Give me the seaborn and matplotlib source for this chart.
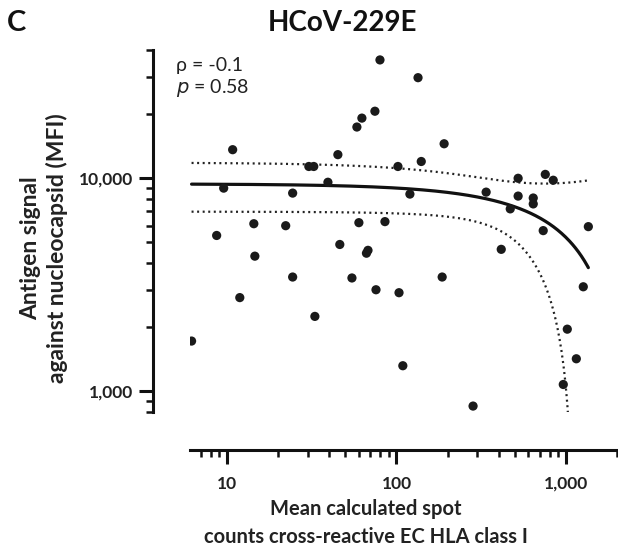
import numpy as np
import pandas as pd
import matplotlib
matplotlib.use("Agg")
import matplotlib.pyplot as plt
import matplotlib.ticker as mticker
import seaborn as sns

# ---- data ----
spot_counts = [79.9, 58.4, 62.5, 74.6, 10.8, 45.1, 30.4, 32.5, 9.56, 39.4,
               24.4, 14.4, 22.2, 8.69, 60.0, 85.5, 134, 191, 102, 140,
               120, 522, 755, 841, 338, 522, 641, 641, 469, 734,
               1355, 46.3, 14.6, 67.9, 66.5, 24.4, 54.6, 75.7, 11.9, 33.0,
               6.18, 415, 186, 103.5, 1265, 1018, 1151, 109, 964, 283]
mfi = [35930, 17400, 19160, 20640, 13620, 12910, 11360, 11360, 8990, 9580,
       8520, 6120, 5990, 5390, 6190, 6260, 29660, 14520, 11360, 11990,
       8430, 10000, 10430, 9790, 8610, 8250, 8080, 7580, 7185, 5680,
       5930, 4890, 4310, 4590, 4450, 3440, 3405, 2998, 2754, 2248,
       1722, 4640, 3440, 2904, 3096, 1958, 1422, 1319, 1077, 853]
x_ticks = [10, 100, 1000]
x_ticklabels = ["10", "100", "1,000"]
y_ticks = [1000, 10000]
y_ticklabels = ["1,000", "10,000"]
stats_text = ["ρ = -0.1", "0.58"]
title = "HCoV-229E"
panel = "C"
x_label = "Mean calculated spot\ncounts cross-reactive EC HLA class I"
y_label = "Antigen signal\nagainst nucleocapsid (MFI)"

df = pd.DataFrame({"spots": spot_counts, "mfi": mfi})

# linear regression (linear space) with 95% confidence band of the mean
x = df["spots"].to_numpy(float)
y = df["mfi"].to_numpy(float)
n = len(x)
b, a = np.polyfit(x, y, 1)
resid = y - (a + b * x)
s = np.sqrt(np.sum(resid ** 2) / (n - 2))
sxx = np.sum((x - x.mean()) ** 2)
t_crit = 2.011
xf = np.logspace(np.log10(x.min()), np.log10(x.max()), 400)
yf = a + b * xf
half = t_crit * s * np.sqrt(1.0 / n + (xf - x.mean()) ** 2 / sxx)
fit = pd.DataFrame({"x": xf, "y": yf, "lo": yf - half, "hi": yf + half})

sns.set_style("ticks")
plt.rcParams["font.family"] = ["Lato", "DejaVu Sans"]

fig = plt.figure(figsize=(6.18, 5.46), dpi=100)
W, H = 618, 546
ax = fig.add_axes([190 / W, (H - 412) / H, (617 - 190) / W, (412 - 50) / H])

sns.scatterplot(data=df, x="spots", y="mfi", ax=ax, color="#1a1a1a",
                s=44, edgecolor="none", zorder=3)
sns.lineplot(data=fit, x="x", y="y", ax=ax, color="#111111", lw=2.3,
             zorder=2)
sns.lineplot(data=fit, x="x", y="hi", ax=ax, color="#222222", lw=1.6,
             ls=(0, (0.9, 1.6)), zorder=2)
lo = fit["lo"].where(fit["lo"] > 1, 1)
ax.plot(fit["x"], lo, color="#222222", lw=1.6, ls=(0, (0.9, 1.6)), zorder=2)

ax.set_xscale("log")
ax.set_yscale("log")
ax.set_xlim(6.05, 2000)
ax.set_ylim(800, 40000)

ax.xaxis.set_major_locator(mticker.FixedLocator(x_ticks))
ax.xaxis.set_major_formatter(mticker.FixedFormatter(x_ticklabels))
ax.xaxis.set_minor_locator(mticker.LogLocator(base=10, subs=np.arange(2, 10)))
ax.xaxis.set_minor_formatter(mticker.NullFormatter())
ax.yaxis.set_major_locator(mticker.FixedLocator(y_ticks))
ax.yaxis.set_major_formatter(mticker.FixedFormatter(y_ticklabels))
ax.yaxis.set_minor_locator(mticker.LogLocator(base=10, subs=np.arange(2, 10)))
ax.yaxis.set_minor_formatter(mticker.NullFormatter())

sns.despine(ax=ax, offset={"left": 27, "bottom": 27})
for sp in ("left", "bottom"):
    ax.spines[sp].set_linewidth(2.2)
    ax.spines[sp].set_color("#111111")
ax.tick_params(which="major", length=10, width=2.2, color="#111111",
               labelsize=12.5)
ax.tick_params(axis="x", which="major", pad=9)
ax.tick_params(axis="y", which="major", pad=4)
ax.tick_params(which="minor", length=5, width=1.8, color="#111111")
for lab in ax.get_xticklabels() + ax.get_yticklabels():
    lab.set_fontweight("bold")
    lab.set_color("#222222")
ax.set_xlabel("")
ax.set_ylabel("")

fig.text(366 / W, 1 - 523 / H, x_label, fontsize=14.5, fontweight="bold",
         color="#222222", ha="center", va="center", linespacing=1.45)
fig.text(44 / W, 1 - 248 / H, y_label, fontsize=16.5, fontweight="bold",
         color="#222222", ha="center", va="center", rotation=90,
         linespacing=1.22)

fig.text(342 / W, 1 - 23 / H, title, fontsize=20, fontweight="bold",
         ha="center", va="center", color="#111111")
fig.text(16 / W, 1 - 23 / H, panel, fontsize=21, fontweight="bold",
         ha="center", va="center", color="#111111")
fig.text(176 / W, 1 - 65 / H, stats_text[0], fontsize=14, ha="left",
         va="center", color="#222222")
fig.text(176 / W, 1 - 88 / H, r"$\it{p}$ = " + stats_text[1], fontsize=14,
         ha="left", va="center", color="#222222")

fig.savefig("out.png", dpi=100)
